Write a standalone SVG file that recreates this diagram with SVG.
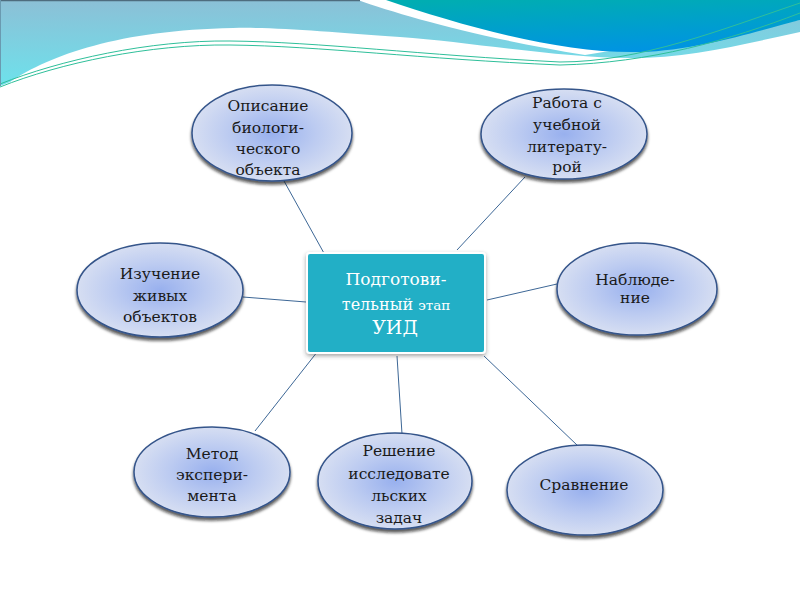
<svg xmlns="http://www.w3.org/2000/svg" width="800" height="600" viewBox="0 0 800 600">
<defs>
<linearGradient id="lb" x1="0" y1="0" x2="0.1" y2="1">
<stop offset="0" stop-color="#8cbfd6"/>
<stop offset="1" stop-color="#6de2ec"/>
</linearGradient>
<linearGradient id="tl" x1="0.2" y1="0" x2="0.5" y2="1">
<stop offset="0" stop-color="#00adb2"/>
<stop offset="1" stop-color="#0094e2"/>
</linearGradient>
<radialGradient id="eg" cx="0.5" cy="0.5" r="0.5">
<stop offset="0" stop-color="#98b0ee"/>
<stop offset="0.55" stop-color="#bccbf1"/>
<stop offset="1" stop-color="#d6def2"/>
</radialGradient>
<filter id="sh" x="-20%" y="-20%" width="140%" height="150%">
<feDropShadow dx="0" dy="3" stdDeviation="1.8" flood-color="#111" flood-opacity="0.7"/>
</filter>
<filter id="sh2" x="-10%" y="-10%" width="120%" height="130%">
<feDropShadow dx="0" dy="2" stdDeviation="2" flood-color="#333" flood-opacity="0.45"/>
</filter>
</defs>
<style>
.el{fill:url(#eg);stroke:#34548a;stroke-width:1.5;filter:url(#sh)}
.t{font-family:"DejaVu Serif","Liberation Serif",serif;font-size:15.5px;fill:#1a1a1a;text-anchor:middle}
.c{font-family:"DejaVu Serif","Liberation Serif",serif;fill:#ffffff;text-anchor:middle}
.ln{stroke:#3d6796;stroke-width:1;fill:none}
.gr{stroke:#2fbf9a;stroke-width:1;fill:none}
</style>
<rect width="800" height="600" fill="#ffffff"/>
<g id="background">
<path d="M0,0 H800 V32 C740,45 690,58 630,58 C560,58 470,42 400,37 C330,32 280,27 233,28 C120,30 50,55 10,82 L0,86 Z" fill="url(#lb)"/>
<path d="M358,0 C400,15 480,38 585,55 L800,20 V0 Z" fill="#ffffff"/>
<path d="M386,0 H800 V20 C760,30 700,50 640,52 C560,54 460,25 386,0 Z" fill="url(#tl)"/>
<path class="gr" d="M0,84 C60,60 150,40 230,41 C320,42 420,55 560,62 C640,62 720,30 800,3"/>
<path class="gr" stroke="#1fa08a" d="M0,87 C60,63 150,44 230,45 C320,46 420,59 560,65 C650,63 730,40 800,13"/>
<path d="M0,0.5 H360" stroke="#4e6c7e" stroke-width="1.5"/>
<path d="M0.5,0 V86" stroke="#6a9ab0" stroke-width="1"/>
</g>
<g id="connectors">
<line class="ln" x1="284" y1="181" x2="325" y2="255"/>
<line class="ln" x1="525" y1="177" x2="457" y2="250"/>
<line class="ln" x1="243" y1="297" x2="306" y2="302"/>
<line class="ln" x1="557" y1="284" x2="487" y2="300"/>
<line class="ln" x1="325" y1="342" x2="255" y2="431"/>
<line class="ln" x1="397" y1="356" x2="402" y2="434"/>
<line class="ln" x1="484" y1="356" x2="578" y2="446"/>
</g>
<g id="center">
<rect x="307" y="253" width="178" height="100" rx="3" fill="#20afc6" stroke="#ffffff" stroke-width="2" filter="url(#sh2)"/>
<text class="c" x="396" y="285" font-size="17">Подготови-</text>
<text class="c" x="396" y="310" font-size="16">тельный <tspan font-size="13.5">этап</tspan></text>
<text class="c" x="395" y="334" font-size="19">УИД</text>
</g>
<g id="n1">
<ellipse class="el" cx="272" cy="133" rx="80" ry="48"/>
<text class="t" x="268" y="111">Описание</text>
<text class="t" x="268" y="133">биологи-</text>
<text class="t" x="268" y="154">ческого</text>
<text class="t" x="268" y="175">объекта</text>
</g>
<g id="n2">
<ellipse class="el" cx="564" cy="134" rx="83" ry="45"/>
<text class="t" x="567" y="108">Работа с</text>
<text class="t" x="567" y="130">учебной</text>
<text class="t" x="567" y="152">литерату-</text>
<text class="t" x="567" y="172">рой</text>
</g>
<g id="n3">
<ellipse class="el" cx="160" cy="290" rx="83" ry="47"/>
<text class="t" x="160" y="279">Изучение</text>
<text class="t" x="160" y="301">живых</text>
<text class="t" x="160" y="322">объектов</text>
</g>
<g id="n4">
<ellipse class="el" cx="637" cy="289" rx="80" ry="46"/>
<text class="t" x="635" y="285">Наблюде-</text>
<text class="t" x="635" y="303">ние</text>
</g>
<g id="n5">
<ellipse class="el" cx="212" cy="472" rx="78" ry="45"/>
<text class="t" x="212" y="459">Метод</text>
<text class="t" x="212" y="480">экспери-</text>
<text class="t" x="212" y="501">мента</text>
</g>
<g id="n6">
<ellipse class="el" cx="395" cy="481" rx="77" ry="48"/>
<text class="t" x="399" y="456">Решение</text>
<text class="t" x="399" y="479">исследовате</text>
<text class="t" x="399" y="501">льских</text>
<text class="t" x="399" y="523">задач</text>
</g>
<g id="n7">
<ellipse class="el" cx="585" cy="490" rx="78" ry="45"/>
<text class="t" x="584" y="490">Сравнение</text>
</g>
</svg>
